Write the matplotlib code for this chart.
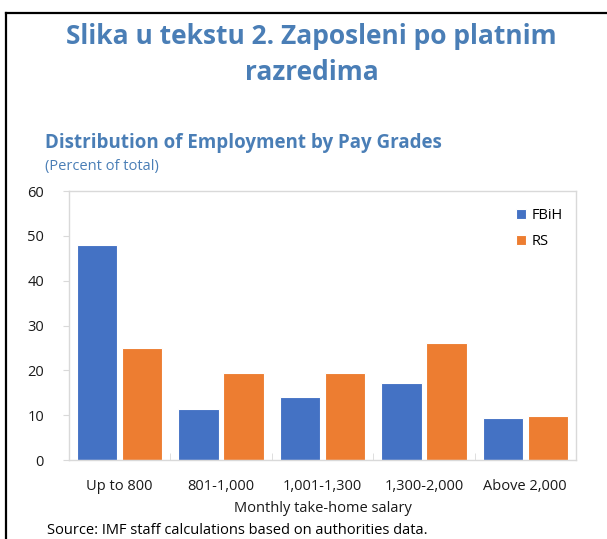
import numpy as np
import matplotlib.pyplot as plt
from matplotlib.lines import Line2D

plt.rcParams['font.family'] = ['Open Sans', 'DejaVu Sans']

categories = ['Up to 800', '801-1,000', '1,001-1,300', '1,300-2,000', 'Above 2,000']
fbih = [48.0, 11.3, 14.0, 17.1, 9.3]
rs = [24.9, 19.3, 19.5, 26.0, 9.9]
y_ticks = [0, 10, 20, 30, 40, 50, 60]

blue = '#4472C4'
orange = '#ED7D31'
title_col = '#4A7EB6'
grey = '#D9D9D9'

fig = plt.figure(figsize=(6.07, 5.39), dpi=100)
ax = fig.add_axes([69/607, 1-460/539, (576-69)/607, (460-191)/539])

x = np.arange(len(categories))
w = 0.40
ax.bar(x - 0.222, fbih, w, color=blue, edgecolor='white', linewidth=0.8, label='FBiH')
ax.bar(x + 0.222, rs, w, color=orange, edgecolor='white', linewidth=0.8, label='RS')

ax.set_xlim(-0.5, len(categories) - 0.5)
ax.set_ylim(0, 60)
ax.set_yticks(y_ticks)
ax.set_xticks(x)
ax.set_xticklabels(categories)
ax.set_xticks(np.arange(-0.5, len(categories)), minor=True)
ax.tick_params(axis='x', which='major', length=0, pad=14, labelsize=10.5, labelcolor='#1a1a1a')
ax.tick_params(axis='x', which='minor', direction='in', length=5, color=grey)
ax.tick_params(axis='y', length=4, color=grey, labelsize=10.5, labelcolor='#1a1a1a', pad=14)
for s in ax.spines.values():
    s.set_color(grey)
    s.set_linewidth(1)
ax.set_xlabel('Monthly take-home salary', fontsize=10.5, color='#1a1a1a', labelpad=5)

ax.legend(loc='upper right', bbox_to_anchor=(1.0, 0.985), frameon=False, fontsize=10.5,
          handlelength=0.7, handleheight=0.7, handletextpad=0.4, labelspacing=0.75)

fig.text(0.513, 1-36/539, 'Slika u tekstu 2. Zaposleni po platnim', ha='center', va='center',
         fontsize=19, fontweight='bold', color=title_col)
fig.text(0.513, 1-72/539, 'razredima', ha='center', va='center',
         fontsize=19, fontweight='bold', color=title_col)
fig.text(45/607, 1-148/539, 'Distribution of Employment by Pay Grades', ha='left', va='baseline',
         fontsize=13.5, fontweight='bold', color=title_col)
fig.text(45/607, 1-170/539, '(Percent of total)', ha='left', va='baseline',
         fontsize=10.5, color=title_col)
fig.text(47/607, 1-534/539, 'Source: IMF staff calculations based on authorities data.', ha='left',
         va='baseline', fontsize=10.5, color='black')

fig.add_artist(Line2D([5.5/607, 5.5/607], [0, 1-13/539], color='black', linewidth=1.6))
fig.add_artist(Line2D([5.5/607, 1], [1-13/539, 1-13/539], color='black', linewidth=1.6))

fig.savefig('out.png', dpi=100)
